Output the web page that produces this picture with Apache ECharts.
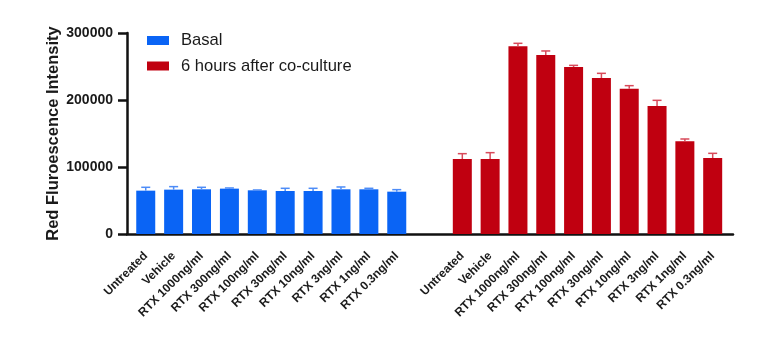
<!DOCTYPE html>
<html>
<head>
<meta charset="utf-8">
<script src="https://cdn.jsdelivr.net/npm/echarts@6/dist/echarts.min.js"></script>
<style>
  html, body { margin: 0; padding: 0; background: #fff; }
  #chart { width: 768px; height: 353px; }
</style>
</head>
<body>
<div id="chart"></div>
<script>
// treatments (same for both groups)
var treatments = ['Untreated', 'Vehicle', 'RTX 1000ng/ml', 'RTX 300ng/ml', 'RTX 100ng/ml',
  'RTX 30ng/ml', 'RTX 10ng/ml', 'RTX 3ng/ml', 'RTX 1ng/ml', 'RTX 0.3ng/ml'];

// basal values + error
var basal = [64700, 66200, 66700, 67700, 65200, 64200, 64200, 66700, 66700, 63200];
var basalErr = [5000, 4500, 3000, 1000, 500, 4000, 4000, 3500, 1500, 3000];

// 6 hours after co-culture
var cocult = [111900, 111900, 280100, 267200, 249200, 232800, 216900, 191000, 138300, 113400];
var cocultErr = [8000, 9500, 4500, 6000, 2500, 7000, 4500, 8500, 3500, 7000];

var yMin = 0, yMax = 300000, yStep = 100000;

var blue = '#0a64f5';
var red = '#c00010';
var ink = '#1a1a1a';

var blueErrData = [], redErrData = [];
for (var j = 0; j < treatments.length; j++) {
  blueErrData.push([j, basal[j], basalErr[j]]);
  redErrData.push([j, cocult[j], cocultErr[j]]);
}

function errBar(color) {
  return function (params, api) {
    var x = api.value(0);
    var lo = api.coord([x, api.value(1)]);
    var hi = api.coord([x, api.value(1) + api.value(2)]);
    var half = 4.5;
    return {
      type: 'group',
      children: [
        { type: 'line', shape: { x1: lo[0], y1: lo[1], x2: hi[0], y2: hi[1] }, style: { stroke: color, lineWidth: 1.5 } },
        { type: 'line', shape: { x1: hi[0] - half, y1: hi[1], x2: hi[0] + half, y2: hi[1] }, style: { stroke: color, lineWidth: 1.5 } }
      ]
    };
  };
}

// category axis for one group: ticks + labels only, the line comes from grid 0
function groupX(gridIndex) {
  return {
    type: 'category', gridIndex: gridIndex, data: treatments,
    axisLine: { show: false },
    axisTick: { alignWithLabel: true, length: 8, lineStyle: { color: '#111', width: 2.5 } },
    axisLabel: { interval: 0, rotate: 45, fontSize: 12, fontWeight: 'bold', color: ink, margin: 20 }
  };
}
function hiddenY(gridIndex) {
  return { type: 'value', gridIndex: gridIndex, min: yMin, max: yMax, show: false };
}

var chart = echarts.init(document.getElementById('chart'));
chart.setOption({
  animation: false,
  textStyle: { fontFamily: 'Liberation Sans, Arial, sans-serif' },
  grid: [
    { left: 127, right: 35, top: 33, bottom: 119 },
    { left: 131.8, width: 278.9, top: 33, bottom: 119 },
    { left: 448.4, width: 278.2, top: 33, bottom: 119 }
  ],
  legend: {
    data: ['Basal', '6 hours after co-culture'],
    orient: 'vertical',
    left: 147, top: 32, padding: 0,
    itemWidth: 22, itemHeight: 9, itemGap: 8.5,
    icon: 'rect',
    textStyle: { fontSize: 16.6, color: ink, padding: [0, 0, 0, 7] }
  },
  xAxis: [
    { type: 'value', gridIndex: 0, min: 0, max: 1,
      axisLine: { show: true, lineStyle: { color: '#111', width: 2.5 } },
      axisTick: { show: false }, axisLabel: { show: false }, splitLine: { show: false } },
    groupX(1),
    groupX(2)
  ],
  yAxis: [
    {
      type: 'value', gridIndex: 0,
      min: yMin, max: yMax, interval: yStep,
      name: 'Red Fluroescence Intensity',
      nameLocation: 'middle',
      nameGap: 65,
      nameMoveOverlap: false,
      nameTextStyle: { fontSize: 16.5, fontWeight: 'bold', color: ink },
      splitLine: { show: false },
      axisLine: { show: true, lineStyle: { color: '#111', width: 2.5 } },
      axisTick: { show: true, length: 9, lineStyle: { color: '#111', width: 2.5 } },
      axisLabel: { fontSize: 14, fontWeight: 'bold', color: ink, margin: 14,
        formatter: function (v) { return String(v); } }
    },
    hiddenY(1),
    hiddenY(2)
  ],
  series: [
    { name: 'Basal', type: 'bar', xAxisIndex: 1, yAxisIndex: 1, data: basal, barWidth: 19,
      itemStyle: { color: blue } },
    { name: '6 hours after co-culture', type: 'bar', xAxisIndex: 2, yAxisIndex: 2, data: cocult, barWidth: 19,
      itemStyle: { color: red } },
    { name: 'basalErr', type: 'custom', xAxisIndex: 1, yAxisIndex: 1, data: blueErrData,
      renderItem: errBar('#4d8cf7'), z: 5 },
    { name: 'cocultErr', type: 'custom', xAxisIndex: 2, yAxisIndex: 2, data: redErrData,
      renderItem: errBar('#d84a5a'), z: 5 }
  ]
});
</script>
</body>
</html>
